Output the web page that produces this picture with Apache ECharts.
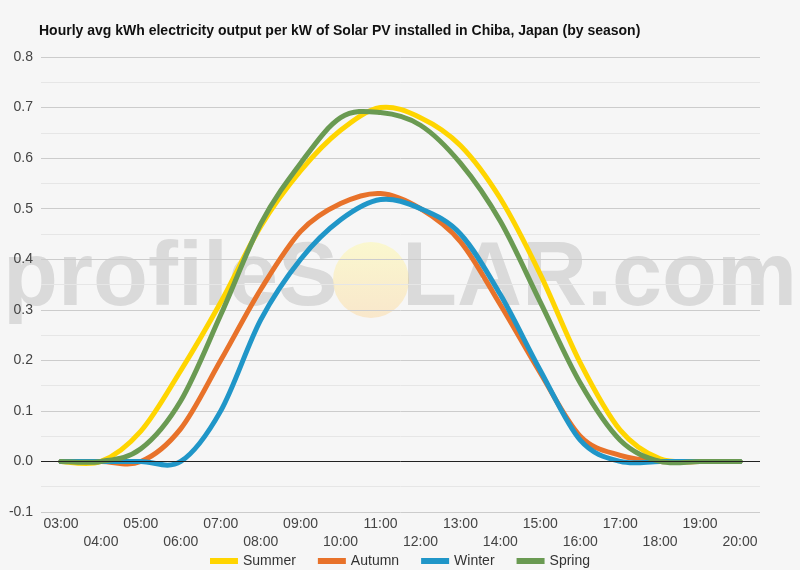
<!DOCTYPE html>
<html>
<head>
<meta charset="utf-8">
<script src="https://cdn.jsdelivr.net/npm/echarts@6/dist/echarts.min.js"></script>
<style>
  html, body { margin: 0; padding: 0; background: #f6f6f6; }
  #main { width: 800px; height: 570px; }
</style>
</head>
<body>
<div id="main"></div>
<script>
var hours = ['03:00','04:00','05:00','06:00','07:00','08:00','09:00','10:00','11:00',
             '12:00','13:00','14:00','15:00','16:00','17:00','18:00','19:00','20:00'];
var summer = [0, 0, 0.06, 0.18, 0.315, 0.465, 0.575, 0.655, 0.7, 0.68, 0.625, 0.52, 0.37, 0.195, 0.062, 0.005, 0, 0];
var autumn = [0, 0, 0, 0.065, 0.2, 0.34, 0.455, 0.51, 0.53, 0.5, 0.435, 0.31, 0.175, 0.05, 0.012, 0, 0, 0];
var winter = [0, 0, 0, 0, 0.1, 0.28, 0.4, 0.478, 0.518, 0.5, 0.45, 0.33, 0.18, 0.042, 0, 0, 0, 0];
var spring = [0, 0, 0.025, 0.12, 0.29, 0.47, 0.59, 0.68, 0.69, 0.665, 0.59, 0.475, 0.315, 0.155, 0.042, 0, 0, 0];

var myChart = echarts.init(document.getElementById('main'));

// spline through the points the axes give (catmull-rom -> bezier)
function splinePath(pts) {
    var d = 'M' + pts[0][0] + ',' + pts[0][1];
    for (var i = 0; i < pts.length - 1; i++) {
        var p0 = pts[i - 1] || pts[i];
        var p1 = pts[i];
        var p2 = pts[i + 1];
        var p3 = pts[i + 2] || p2;
        var c1x = p1[0] + (p2[0] - p0[0]) / 6, c1y = p1[1] + (p2[1] - p0[1]) / 6;
        var c2x = p2[0] - (p3[0] - p1[0]) / 6, c2y = p2[1] - (p3[1] - p1[1]) / 6;
        d += 'C' + c1x + ',' + c1y + ',' + c2x + ',' + c2y + ',' + p2[0] + ',' + p2[1];
    }
    return d;
}

function curve(name, values, color) {
    return {
        name: name,
        type: 'custom',
        data: values.map(function (v, i) { return [i, v]; }),
        encode: { x: 0, y: 1 },
        itemStyle: { color: color },
        z: 3,
        renderItem: function (params, api) {
            if (params.dataIndex !== 0) return;
            var pts = values.map(function (v, i) { return api.coord([i, v]); });
            return {
                type: 'path',
                shape: { pathData: splinePath(pts) },
                style: { stroke: color, lineWidth: 5, fill: null, lineJoin: 'round', lineCap: 'round' }
            };
        }
    };
}

var wmFont = 'bold 90px "Liberation Sans", Arial, sans-serif';
var wmFill = 'rgba(120,120,120,0.22)';

option = {
    backgroundColor: '#f6f6f6',
    textStyle: { fontFamily: 'Liberation Sans, Arial, sans-serif' },
    title: {
        text: 'Hourly avg kWh electricity output per kW of Solar PV installed in Chiba, Japan (by season)',
        left: 34,
        top: 19,
        textStyle: { fontSize: 14, fontWeight: 'bold', color: '#111' }
    },
    legend: {
        top: 549,
        left: 'center',
        icon: 'rect',
        itemWidth: 28,
        itemHeight: 6,
        itemGap: 22,
        textStyle: { fontSize: 14, color: '#333' },
        data: ['Summer', 'Autumn', 'Winter', 'Spring']
    },
    grid: { left: 41, right: 40, top: 57, bottom: 58, containLabel: false },
    graphic: [
        {
            type: 'text', left: 3, top: 235, z: 0, silent: true,
            style: { text: 'profileS', font: wmFont, fill: wmFill }
        },
        {
            type: 'circle', shape: { cx: 371, cy: 280, r: 38 }, z: 0, silent: true,
            style: {
                fill: new echarts.graphic.LinearGradient(0, 0, 0, 1, [
                    { offset: 0, color: 'rgba(252,248,190,0.7)' },
                    { offset: 1, color: 'rgba(250,225,185,0.7)' }
                ])
            }
        },
        {
            type: 'text', left: 402, top: 235, z: 0, silent: true,
            style: { text: 'LAR.com', font: wmFont, fill: wmFill }
        }
    ],
    xAxis: {
        type: 'category',
        data: hours,
        boundaryGap: true,
        axisLine: { show: false },
        axisTick: { show: false },
        axisLabel: {
            interval: 0,
            fontSize: 14,
            color: '#444',
            lineHeight: 18,
            margin: 3,
            formatter: function (v, i) { return i % 2 ? '\n' + v : v; }
        }
    },
    yAxis: {
        type: 'value',
        min: -0.1,
        max: 0.8,
        interval: 0.1,
        axisLine: { show: false },
        axisTick: { show: false },
        axisLabel: {
            fontSize: 14,
            color: '#444',
            margin: 8,
            formatter: function (v) { return (Math.round(v * 10) / 10).toFixed(1); }
        },
        splitLine: { lineStyle: { color: '#cccccc', width: 1 } },
        minorTick: { show: false, splitNumber: 2 },
        minorSplitLine: { show: true, lineStyle: { color: '#e6e6e6', width: 1 } }
    },
    series: [
        {
            // zero baseline
            type: 'line',
            data: [],
            silent: true,
            markLine: {
                silent: true,
                symbol: 'none',
                label: { show: false },
                lineStyle: { color: '#222', width: 1, type: 'solid' },
                data: [{ yAxis: 0 }]
            },
            z: 1
        },
        curve('Summer', summer, '#ffd500'),
        curve('Autumn', autumn, '#e8722a'),
        curve('Winter', winter, '#2096c8'),
        curve('Spring', spring, '#6a9a52')
    ]
};

myChart.setOption(option);
</script>
</body>
</html>
